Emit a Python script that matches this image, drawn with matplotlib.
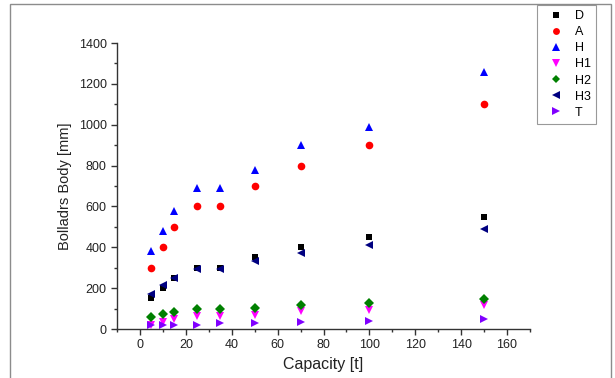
import matplotlib
matplotlib.use("Agg")
import matplotlib.pyplot as plt
from matplotlib.patches import Rectangle
from matplotlib.ticker import MultipleLocator

plt.rcParams['font.family'] = ['Liberation Sans', 'DejaVu Sans']

capacity = [5, 10, 15, 25, 35, 50, 70, 100, 150]
D = [153, 202, 251, 298, 298, 352, 400, 450, 550]
A = [300, 400, 500, 600, 600, 700, 800, 900, 1100]
H = [380, 480, 580, 690, 690, 780, 900, 990, 1260]
H1 = [22, 34, 47, 64, 64, 69, 86, 94, 119]
H2 = [61, 72, 83, 96, 96, 101, 119, 127, 147]
H3 = [173, 214, 251, 292, 292, 333, 372, 410, 490]
T = [18, 21, 21, 20, 28, 31, 34, 41, 49]

series = [
    ("D", D, "s", "#000000", 5.0),
    ("A", A, "o", "#ff0000", 5.5),
    ("H", H, "^", "#0000ff", 6.2),
    ("H1", H1, "v", "#ff00ff", 6.2),
    ("H2", H2, "D", "#008000", 4.6),
    ("H3", H3, "<", "#000080", 6.2),
    ("T", T, ">", "#8000ff", 6.2),
]

fig = plt.figure(figsize=(6.15, 3.78), dpi=100)
fig.patches.append(Rectangle((10/615, -0.05), 601/615, 1 - 4/378 + 0.05,
                             transform=fig.transFigure, fill=False,
                             edgecolor="#8c8c8c", linewidth=1.0, zorder=0))
ax = fig.add_axes([117/615, 1 - 329/378, (530 - 117)/615, (329 - 43)/378])

handles = []
for name, vals, m, c, s in series:
    h, = ax.plot(capacity, vals, linestyle="none", marker=m, color=c,
                 markersize=s, markeredgewidth=0, label=name, clip_on=False)
    handles.append(h)

ax.set_xlim(-10, 170)
ax.set_ylim(0, 1400)
ax.xaxis.set_major_locator(MultipleLocator(20))
ax.xaxis.set_minor_locator(MultipleLocator(10))
ax.yaxis.set_major_locator(MultipleLocator(200))
ax.yaxis.set_minor_locator(MultipleLocator(100))
for side in ("top", "right"):
    ax.spines[side].set_visible(False)
for side in ("left", "bottom"):
    ax.spines[side].set_color("#333333")
    ax.spines[side].set_linewidth(1.0)
ax.tick_params(which="major", direction="out", length=4, width=1,
               color="#333333", labelsize=9, labelcolor="#222222")
ax.tick_params(which="minor", direction="out", length=2.5, width=1,
               color="#333333")
ax.set_xlabel("Capacity [t]", fontsize=11.5, color="#222222", labelpad=4)
ax.set_ylabel("Bolladrs Body [mm]", fontsize=10.5, color="#222222", labelpad=5)

leg = fig.legend(handles=handles, loc="upper left",
                 bbox_to_anchor=(537/615, 1 - 5/378),
                 frameon=True, fancybox=False, fontsize=9, markerscale=0.9,
                 handlelength=2.2, handletextpad=0.45, labelspacing=0.33,
                 borderpad=0.4, borderaxespad=0)
leg.get_frame().set_edgecolor("#808080")
leg.get_frame().set_linewidth(0.8)

fig.savefig("out.png", dpi=100)
